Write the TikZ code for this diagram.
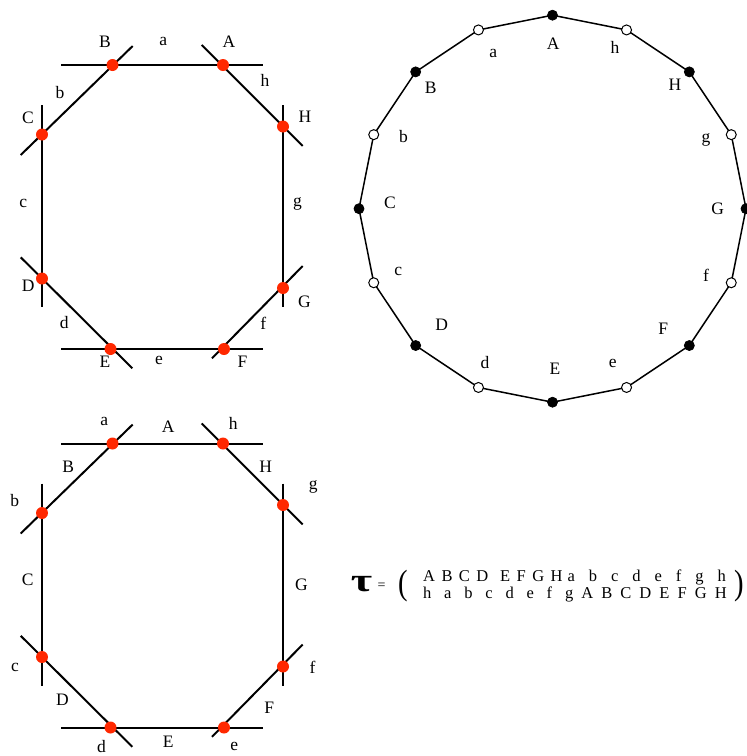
\documentclass[tikz,border=0pt]{standalone}
\usepackage{fontspec}
\setmainfont{Liberation Serif}
\usetikzlibrary{calc}
\definecolor{dotred}{RGB}{255,40,0}
\newcommand\sk[1]{\hspace{#1pt}}
\begin{document}
\begin{tikzpicture}[x=1pt,y=-1pt,
  lbl/.style={inner sep=0pt, font=\fontsize{17.5}{19}\selectfont},
  octline/.style={line width=2pt, black},
  reddot/.style={circle, fill=dotred, inner sep=0pt, minimum size=12pt},
  polyline/.style={line width=1.5pt, black},
  bdot/.style={circle, fill=black, draw=black, line width=0.8pt, inner sep=0pt, minimum size=10pt},
  wdot/.style={circle, fill=white, draw=black, line width=1pt, inner sep=0pt, minimum size=10pt}]
\useasboundingbox (0,0) rectangle (747,756);

% ---------- top-left octagon ----------
\coordinate (tTl) at (61,65);   \coordinate (tTr) at (263,65);
\coordinate (tBl) at (61,349);  \coordinate (tBr) at (263,349);
\coordinate (tLt) at (42,105);  \coordinate (tLb) at (42,307);
\coordinate (tRt) at (283,105); \coordinate (tRb) at (283,307);
\coordinate (tBC1) at (132.7,46);  \coordinate (tBC2) at (20.7,155);
\coordinate (tAH1) at (201.7,45);  \coordinate (tAH2) at (302.7,146);
\coordinate (tDE1) at (20.7,257.3); \coordinate (tDE2) at (132.3,368.3);
\coordinate (tGF1) at (302.7,266);  \coordinate (tGF2) at (212,358.3);
\draw[octline] (tTl) -- (tTr);
\draw[octline] (tBl) -- (tBr);
\draw[octline] (tLt) -- (tLb);
\draw[octline] (tRt) -- (tRb);
\draw[octline] (tBC1) -- (tBC2);
\draw[octline] (tAH1) -- (tAH2);
\draw[octline] (tDE1) -- (tDE2);
\draw[octline] (tGF1) -- (tGF2);
\node[reddot] (tB) at (112.5,65) {};
\node[reddot] (tA) at (223,65) {};
\node[reddot] (tH) at (283,126.5) {};
\node[reddot] (tC) at (42,134.5) {};
\node[reddot] (tD) at (42,278.5) {};
\node[reddot] (tG) at (283,288) {};
\node[reddot] (tE) at (110.5,349) {};
\node[reddot] (tF) at (224,349) {};
\node[lbl] (tlB) at (105,41.7) {B};
\node[lbl] (tla) at (163.3,41.7) {a};
\node[lbl] (tlA) at (229,41.5) {A};
\node[lbl] (tlh) at (265,80.5) {h};
\node[lbl] (tlb) at (60,92.5) {b};
\node[lbl] (tlC) at (28,117.5) {C};
\node[lbl] (tlH) at (305,117) {H};
\node[lbl] (tlc) at (23.3,203.5) {c};
\node[lbl] (tlg) at (297.5,203.5) {g};
\node[lbl] (tlD) at (28.3,285.5) {D};
\node[lbl] (tlG) at (304.5,302) {G};
\node[lbl] (tld) at (64.3,322.5) {d};
\node[lbl] (tlf) at (263.3,323.5) {f};
\node[lbl] (tlE) at (105,361.5) {E};
\node[lbl] (tle) at (159,360) {e};
\node[lbl] (tlF) at (242.5,362) {F};

% ---------- bottom-left octagon ----------
\begin{scope}[shift={(0,378.5)}]
\coordinate (bTl) at (61,65);   \coordinate (bTr) at (263,65);
\coordinate (bBl) at (61,349);  \coordinate (bBr) at (263,349);
\coordinate (bLt) at (42,105);  \coordinate (bLb) at (42,307);
\coordinate (bRt) at (283,105); \coordinate (bRb) at (283,307);
\coordinate (bBC1) at (132.7,46);  \coordinate (bBC2) at (20.7,155);
\coordinate (bAH1) at (201.7,45);  \coordinate (bAH2) at (302.7,146);
\coordinate (bDE1) at (20.7,257.3); \coordinate (bDE2) at (132.3,368.3);
\coordinate (bGF1) at (302.7,266);  \coordinate (bGF2) at (212,358.3);
\draw[octline] (bTl) -- (bTr);
\draw[octline] (bBl) -- (bBr);
\draw[octline] (bLt) -- (bLb);
\draw[octline] (bRt) -- (bRb);
\draw[octline] (bBC1) -- (bBC2);
\draw[octline] (bAH1) -- (bAH2);
\draw[octline] (bDE1) -- (bDE2);
\draw[octline] (bGF1) -- (bGF2);
\node[reddot] (ba) at (112.5,65) {};
\node[reddot] (bh) at (223,65) {};
\node[reddot] (bg) at (283,126.5) {};
\node[reddot] (bb) at (42,134.5) {};
\node[reddot] (bc) at (42,278.5) {};
\node[reddot] (bf) at (283,288) {};
\node[reddot] (bd) at (110.5,349) {};
\node[reddot] (be) at (224,349) {};
\end{scope}
\node[lbl] (bla) at (104.3,421) {a};
\node[lbl] (blA) at (168.3,426.5) {A};
\node[lbl] (blh) at (233.3,423.5) {h};
\node[lbl] (blB) at (68.3,466.5) {B};
\node[lbl] (blH) at (265.7,466.5) {H};
\node[lbl] (blg) at (313.3,487.3) {g};
\node[lbl] (blb) at (14.8,501) {b};
\node[lbl] (blC) at (27.7,580) {C};
\node[lbl] (blG) at (301.5,585) {G};
\node[lbl] (blc) at (15,667) {c};
\node[lbl] (blf) at (312.5,667) {f};
\node[lbl] (blD) at (62.5,700) {D};
\node[lbl] (blF) at (269.3,708) {F};
\node[lbl] (bld) at (101.5,746.5) {d};
\node[lbl] (blE) at (168.3,741.5) {E};
\node[lbl] (ble) at (234.3,746.5) {e};

% ---------- 16-gon ----------
\coordinate (O) at (552.5,208.7);
\foreach \n/\ang in {A/-90, a/-112.5, B/-135, b/-157.5,
  C/-180, c/-202.5, D/-225, d/-247.5, E/-270, e/-292.5,
  F/-315, f/-337.5, G/0, g/-22.5, H/-45, h/-67.5}
  {\coordinate (p\n) at ($(O)+(\ang:193.5)$);}
\draw[polyline] (pA) -- (pa) -- (pB) -- (pb) -- (pC) -- (pc) -- (pD) -- (pd) -- (pE)
  -- (pe) -- (pF) -- (pf) -- (pG) -- (pg) -- (pH) -- (ph) -- cycle;
\foreach \n/\st in {A/bdot, a/wdot, B/bdot, b/wdot, C/bdot, c/wdot, D/bdot, d/wdot,
  E/bdot, e/wdot, F/bdot, f/wdot, G/bdot, g/wdot, H/bdot, h/wdot}
  {\node[\st] (v\n) at (p\n) {};}
\node[lbl] (rlA) at (553.3,43.3) {A};
\node[lbl] (rla) at (493.3,53.3) {a};
\node[lbl] (rlh) at (615,47.7) {h};
\node[lbl] (rlB) at (430.7,87.3) {B};
\node[lbl] (rlH) at (675,85) {H};
\node[lbl] (rlb) at (403.5,136.5) {b};
\node[lbl] (rlg) at (706,140) {g};
\node[lbl] (rlC) at (390,202.7) {C};
\node[lbl] (rlG) at (717.7,208.3) {G};
\node[lbl] (rlc) at (398.3,271.7) {c};
\node[lbl] (rlf) at (706,275.5) {f};
\node[lbl] (rlD) at (441.7,325) {D};
\node[lbl] (rlF) at (663.3,328.3) {F};
\node[lbl] (rld) at (485,362.7) {d};
\node[lbl] (rlE) at (555,368.3) {E};
\node[lbl] (rle) at (612.7,363.3) {e};

% ---------- permutation ----------
\node[inner sep=0pt] (tau) at (361.5,584) {\scalebox{1.4}[1]{\fontsize{33}{33}\selectfont\bfseries τ}};
\node[inner sep=0pt] (eq) at (381.5,586) {\fontsize{14}{14}\selectfont =};
\node[inner sep=0pt] (lpar) at (403,586) {\scalebox{1.1}[1.35]{\fontsize{26}{26}\selectfont (}};
\node[inner sep=0pt] (rpar) at (739,586) {\scalebox{1.1}[1.35]{\fontsize{26}{26}\selectfont )}};
\node[inner sep=0pt, anchor=base west, font=\fontsize{16.5}{18}\selectfont] (row1) at (423,581)
  {A\sk{6.4}B\sk{6.4}C\sk{6.4}D\sk{12}E\sk{6.4}F\sk{6.4}G\sk{6.4}H\sk{5}a\sk{14}b\sk{14}c\sk{14}d\sk{14}e\sk{14}f\sk{14}g\sk{14}h};
\node[inner sep=0pt, anchor=base west, font=\fontsize{16.5}{18}\selectfont] (row2) at (423,598.5)
  {h\sk{12.8}a\sk{12.8}b\sk{12.8}c\sk{12.8}d\sk{12.8}e\sk{12.8}f\sk{12.8}g\sk{8}A\sk{8.1}B\sk{8.1}C\sk{8.1}D\sk{8.1}E\sk{8.1}F\sk{8.1}G\sk{8.1}H};
\end{tikzpicture}
\end{document}
